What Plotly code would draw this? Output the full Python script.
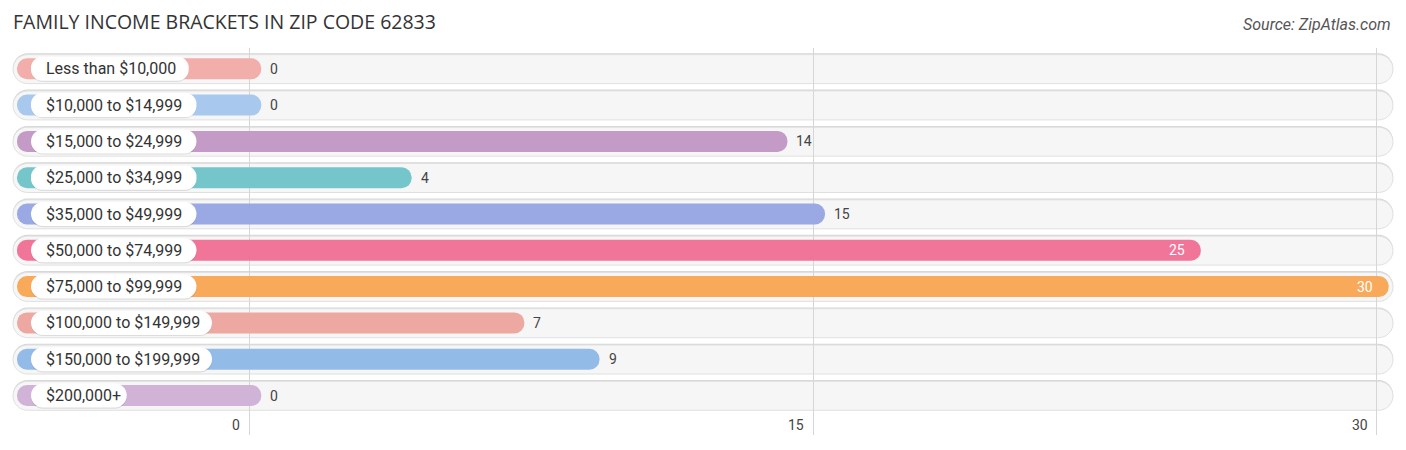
import plotly.graph_objects as go

categories = ["Less than $10,000", "$10,000 to $14,999", "$15,000 to $24,999",
              "$25,000 to $34,999", "$35,000 to $49,999", "$50,000 to $74,999",
              "$75,000 to $99,999", "$100,000 to $149,999", "$150,000 to $199,999",
              "$200,000+"]
values = [0, 0, 14, 4, 15, 25, 30, 7, 9, 0]
colors = ["#f2aeaa", "#a9c8ed", "#c39bc6", "#75c6cb", "#9aa8e3",
          "#f17499", "#f8a95a", "#eea8a2", "#93bbe8", "#d0b3d6"]
tick_vals = [0, 15, 30]

W, H = 1406, 450
ML, MR, MT, MB = 0, 0, 48, 15
ZERO_PX = 249.3
PX_X = 37.58          # px per x unit
ROW0_PX = 68.8        # pixel center of first row
PX_Y = 36.3           # px per row

x_range = [-(ZERO_PX - ML) / PX_X, (W - MR - ZERO_PX) / PX_X]
y_top = (MT - ROW0_PX) / PX_Y
y_bot = (H - MB - ROW0_PX) / PX_Y
y_range = [y_bot, y_top]
PH = H - MT - MB


def px2x(px):
    return (px - ZERO_PX) / PX_X


def py2paper(py):
    return (H - MB - py) / PH


n = len(categories)
ys = list(range(n))

fig = go.Figure()

# background tracks (rounded) as path shapes
TRACK_L, TRACK_R, TRACK_H = 13, 1393, 29
k = 0.5523
rx = (TRACK_H / 2) / PX_X
ry = (TRACK_H / 2) / PX_Y
shapes = []
for i in ys:
    x0, x1 = px2x(TRACK_L), px2x(TRACK_R)
    for dy, fill, line in [(-1.0 / PX_Y, "#d6d6d6", "rgba(0,0,0,0)"), (0.3 / PX_Y, "#f6f6f6", "#e0e0e0")]:
        c = i + dy
        y0, y1 = c - ry, c + ry
        path = (f"M {x0+rx},{y0} L {x1-rx},{y0} "
                f"C {x1-rx+k*rx},{y0} {x1},{c-k*ry} {x1},{c} "
                f"C {x1},{c+k*ry} {x1-rx+k*rx},{y1} {x1-rx},{y1} "
                f"L {x0+rx},{y1} "
                f"C {x0+rx-k*rx},{y1} {x0},{c+k*ry} {x0},{c} "
                f"C {x0},{c-k*ry} {x0+rx-k*rx},{y0} {x0+rx},{y0} Z")
        shapes.append(dict(type="path", path=path, xref="x", yref="y", layer="below",
                           fillcolor=fill, line=dict(color=line, width=1)))

# colored bars with rounded ends
BAR_START_PX = 17
BAR_END_EXTRA = 12 / PX_X
BAR_T = 21 / PX_Y
start = px2x(BAR_START_PX)
ends = [v + BAR_END_EXTRA for v in values]
fig.add_trace(go.Bar(y=ys, x=[e - start for e in ends], base=[start] * n, orientation="h",
                     width=BAR_T, marker=dict(color=colors, cornerradius="50%", line=dict(width=0)),
                     customdata=values, hovertemplate="%{customdata}<extra></extra>",
                     showlegend=False))

# white label pills
PILL_START_PX = 31
PILL_T = 24 / PX_Y
LABEL_SIZE = 16
p_start = px2x(PILL_START_PX)
pill_e = [px2x(PILL_START_PX + 26 + 7.75 * len(c)) for c in categories]
for dy, col in [(1.2 / PX_Y, "rgba(0,0,0,0.10)"), (0, "#ffffff")]:
    fig.add_trace(go.Bar(y=[y + dy for y in ys], x=[e - p_start for e in pill_e], base=[p_start] * n,
                         orientation="h", width=PILL_T,
                         marker=dict(color=col, cornerradius="50%", line=dict(width=0)),
                         hoverinfo="skip", showlegend=False))

annotations = []
for i, (cat, v) in enumerate(zip(categories, values)):
    annotations.append(dict(x=px2x(PILL_START_PX + 13), y=i, xref="x", yref="y", text=cat,
                            showarrow=False, xanchor="left", yanchor="middle",
                            font=dict(family="Roboto", size=LABEL_SIZE, color="#333333")))
    if v >= 0.75 * max(values):
        annotations.append(dict(x=v, y=i, xref="x", yref="y", text=str(v), showarrow=False,
                                xanchor="right", yanchor="middle", xshift=-2,
                                font=dict(family="Roboto", size=14, color="#ffffff")))
    else:
        annotations.append(dict(x=v, y=i, xref="x", yref="y", text=str(v), showarrow=False,
                                xanchor="left", yanchor="middle", xshift=19,
                                font=dict(family="Roboto", size=14, color="#444444")))

for t in tick_vals:
    annotations.append(dict(x=t, y=py2paper(425), xref="x", yref="paper",
                            text=str(t), showarrow=False, xanchor="right", yanchor="middle",
                            xshift=-7, font=dict(family="Roboto", size=14, color="#444444")))

annotations.append(dict(x=1393 / W, y=py2paper(25), xref="paper", yref="paper",
                        text="<i>Source: ZipAtlas.com</i>", showarrow=False,
                        xanchor="right", yanchor="middle",
                        font=dict(family="Roboto", size=16, color="#555555")))

fig.update_layout(
    width=W, height=H,
    margin=dict(l=ML, r=MR, t=MT, b=MB),
    paper_bgcolor="#ffffff", plot_bgcolor="#ffffff",
    barmode="overlay",
    title=dict(text="FAMILY INCOME BRACKETS IN ZIP CODE 62833", x=13 / W, xanchor="left",
               y=1 - 22 / H, yanchor="middle", xref="container", yref="container",
               font=dict(family="Open Sans", size=19.5, color="#333333")),
    xaxis=dict(range=x_range, tickvals=tick_vals, showticklabels=False, showgrid=True,
               gridcolor="#d6d6d6", gridwidth=1, zeroline=False, showline=False, fixedrange=True),
    yaxis=dict(range=y_range, showticklabels=False, showgrid=False, zeroline=False,
               showline=False, fixedrange=True),
    shapes=shapes,
    annotations=annotations,
)

fig.write_html("out.html", config={"displayModeBar": False},
               post_script="document.body.style.margin='0';")
